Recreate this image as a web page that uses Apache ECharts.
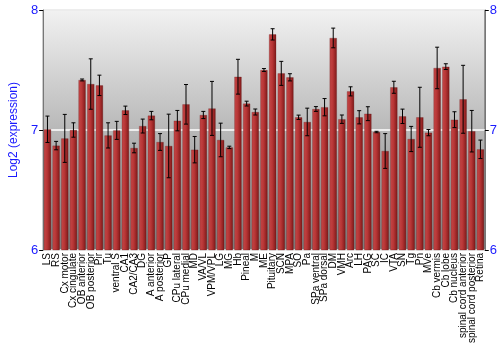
<!DOCTYPE html>
<html><head><meta charset="utf-8">
<script src="https://cdn.jsdelivr.net/npm/echarts@6/dist/echarts.min.js"></script>
<style>html,body{margin:0;padding:0;background:#fff}#c{width:500px;height:350px}</style>
</head><body><div id="c"></div>
<script>
const categories = ["LS","RS","Cx motor","Cx cingulate","OB anterior","OB posterior","Pir","Tu","ventral S","CA1","CA2/CA3","DG","A anterior","A posterior","GP","CPu lateral","CPu medial","MD","VA/VL","VPM/VPL","LG","MG","Hb","Pineal","M","ME","Pituitary","SCN","MPA","SO","Pa","SPa ventral","SPa dorsal","DM","VMH","Arc","LH","PAG","SC","IC","VTA","SN","Tg","Pn","MVe","Cb vermis","Cb lobe","Cb nucleus","spinal cord anterior","spinal cord posterior","Retina"];
const means = [7.006,6.87,6.93,7.0,7.417,7.383,7.372,6.955,6.997,7.164,6.85,7.033,7.12,6.9,6.867,7.078,7.214,6.836,7.125,7.18,6.917,6.855,7.444,7.22,7.15,7.5,7.797,7.472,7.439,7.106,7.067,7.175,7.19,7.767,7.09,7.322,7.106,7.136,6.983,6.825,7.356,7.114,6.925,7.106,6.978,7.517,7.528,7.086,7.256,6.99,6.839];
const errs = [0.11,0.035,0.2,0.06,0.008,0.21,0.085,0.105,0.075,0.035,0.04,0.058,0.035,0.07,0.265,0.085,0.165,0.11,0.03,0.225,0.14,0.01,0.145,0.02,0.025,0.012,0.047,0.1,0.03,0.018,0.115,0.02,0.072,0.082,0.035,0.038,0.055,0.058,0.006,0.145,0.05,0.06,0.105,0.25,0.026,0.173,0.024,0.066,0.283,0.173,0.077];
const yTicks = [6,7,8];

const chart = echarts.init(document.getElementById('c'));
const errData = means.map((m,i)=>[i, m-errs[i], m+errs[i]]);
const axisLabelBase = {color:'#1a1aff', fontSize:13, fontFamily:'Liberation Sans, Arial, sans-serif'};
chart.setOption({
  animation:false,
  grid:{left:27, right:14, top:10, bottom:100, show:true,
    backgroundColor:new echarts.graphic.LinearGradient(0,0,0,1,[{offset:0,color:'#f2f2f2'},{offset:1,color:'#7e7e7e'}]),
    borderColor:'#777', borderWidth:1},
  xAxis:{type:'category', data:categories,
    axisLine:{show:false}, axisTick:{show:false},
    axisLabel:{rotate:90, interval:0, fontSize:10, color:'#000', margin:3, fontFamily:'Liberation Sans, Arial, sans-serif'}},
  yAxis:[
    {type:'value', min:yTicks[0], max:yTicks[2], interval:1, name:'Log2 (expression)', nameLocation:'middle', nameGap:18,
     nameTextStyle:{color:'#1a1aff', fontSize:12, fontFamily:'Liberation Sans, Arial, sans-serif'},
     axisLine:{show:true, lineStyle:{color:'#777'}}, axisTick:{show:true, length:4, lineStyle:{color:'#000'}},
     axisLabel:Object.assign({margin:5}, axisLabelBase),
     splitLine:{show:true, lineStyle:{color:'#ffffff', width:1.5}}},
    {type:'value', position:'right', min:yTicks[0], max:yTicks[2], interval:1,
     axisLine:{show:true, lineStyle:{color:'#777'}}, axisTick:{show:true, length:4, lineStyle:{color:'#000'}},
     axisLabel:Object.assign({margin:5}, axisLabelBase), splitLine:{show:false}}
  ],
  series:[
    {type:'bar', data:means, barCategoryGap:'16%',
     itemStyle:{color:new echarts.graphic.LinearGradient(0,0,1,0,[{offset:0,color:'#c44848'},{offset:0.45,color:'#b83636'},{offset:1,color:'#7d1818'}]),
       borderColor:'rgba(90,20,20,0.5)', borderWidth:0.5}},
    {type:'custom', data:errData, z:10,
     renderItem:function(params, api){
       const x = api.coord([api.value(0), api.value(1)])[0];
       const lo = api.coord([api.value(0), api.value(1)])[1];
       const hi = api.coord([api.value(0), api.value(2)])[1];
       const w = 2;
       const st = {stroke:'#000', lineWidth:1};
       return {type:'group', children:[
         {type:'line', shape:{x1:x,y1:hi,x2:x,y2:lo}, style:st},
         {type:'line', shape:{x1:x-w,y1:hi,x2:x+w,y2:hi}, style:st},
         {type:'line', shape:{x1:x-w,y1:lo,x2:x+w,y2:lo}, style:st}
       ]};
     }}
  ]
});
</script></body></html>
